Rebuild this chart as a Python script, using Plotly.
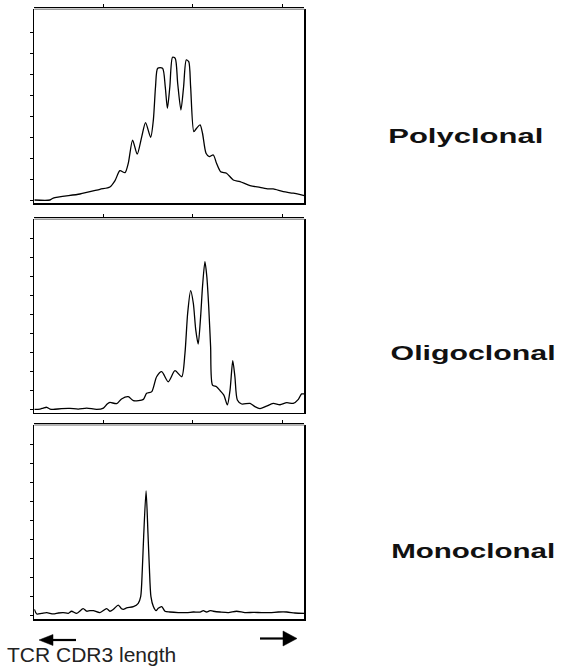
import plotly.graph_objects as go

# ---- data (relative fluorescence vs. CDR3 length position, 0-100 scale) ----
poly_x = [0.0, 5.8, 7.0, 16.9, 24.3, 28.0, 29.9, 31.7, 33.6, 34.8,
          36.4, 38.1, 39.8, 41.2, 43.1, 44.1, 44.9, 45.7, 47.5, 48.5,
          49.3, 50.2, 51.2, 52.2, 53.1, 54.3, 55.3, 56.3, 57.2, 57.9,
          59.1, 60.1, 61.4, 62.3, 63.6, 64.8, 66.3, 67.5, 69.0, 71.2,
          73.7, 76.2, 79.9, 83.6, 86.7, 88.5, 92.2, 95.9, 100]
poly_y = [1.7, 1.7, 2.7, 4.8, 7.2, 8.4, 11.7, 16.8, 15.8, 20.6,
          32.6, 25.3, 34.4, 41.6, 34.0, 43.0, 60.1, 69.6, 69.6, 60.1,
          49.0, 60.1, 75.3, 74.7, 61.9, 48.1, 60.1, 73.9, 73.0, 60.1,
          36.9, 38.7, 40.4, 36.1, 25.8, 24.1, 24.9, 20.6, 16.3, 15.5,
          12.0, 11.2, 9.1, 8.2, 7.4, 7.4, 6.0, 5.2, 4.0]

oligo_x = [0.0, 2.1, 3.3, 4.6, 5.8, 7.0, 10.1, 13.2, 16.3, 19.4,
           23.1, 25.6, 27.0, 28.0, 30.5, 32.3, 34.8, 36.7, 40.4, 41.6,
           43.5, 45.3, 47.2, 49.6, 52.1, 54.6, 55.8, 56.8, 57.9, 58.9,
           59.8, 60.7, 61.6, 62.3, 63.2, 63.9, 64.6, 65.3, 66.0, 67.5,
           68.8, 70.2, 71.5, 72.5, 73.5, 74.3, 75.2, 76.8, 79.9, 81.7,
           83.6, 86.0, 88.5, 91.0, 93.5, 95.9, 97.8, 99.0, 100]
oligo_y = [1.7, 1.9, 2.4, 2.8, 1.9, 1.7, 2.1, 2.2, 1.9, 2.4,
           1.7, 2.4, 4.5, 5.3, 4.7, 7.1, 8.3, 6.2, 6.9, 10.0,
           10.9, 18.6, 21.2, 16.0, 21.7, 18.6, 30.7, 51.4, 63.1, 56.6,
           42.8, 35.5, 49.7, 65.2, 78.1, 70.3, 54.8, 34.1, 14.3, 13.4,
           11.4, 9.1, 4.0, 11.7, 26.9, 18.6, 6.6, 4.5, 4.8, 3.1,
           2.1, 3.4, 4.8, 4.1, 5.2, 4.8, 6.9, 9.7, 9.7]

mono_x = [0.0, 0.9, 2.7, 4.6, 7.0, 8.9, 10.7, 12.6, 13.8, 15.7,
          18.1, 19.4, 20.6, 21.9, 24.3, 26.8, 28.0, 29.3, 31.1, 32.3,
          33.0, 34.2, 36.7, 38.5, 39.4, 40.0, 40.5, 41.4, 42.1, 42.6,
          43.2, 44.1, 45.1, 45.9, 47.2, 48.4, 50.2, 53.3, 56.4, 58.9,
          61.4, 62.6, 63.8, 65.1, 66.3, 68.8, 71.9, 74.9, 78.0, 81.1,
          84.2, 87.3, 90.4, 93.5, 96.5, 100]
mono_y = [5.0, 2.6, 2.9, 3.3, 2.6, 3.1, 3.3, 2.9, 4.0, 2.9,
          5.3, 4.0, 4.3, 4.3, 3.3, 5.3, 4.0, 5.0, 7.2, 5.3,
          5.0, 5.7, 6.4, 8.1, 11.5, 25.3, 42.4, 66.0, 44.2, 27.0,
          11.5, 6.4, 4.3, 5.5, 6.4, 4.0, 3.6, 3.3, 3.3, 3.6,
          3.6, 4.3, 3.6, 4.3, 4.0, 3.6, 3.3, 4.0, 3.3, 3.4,
          3.3, 3.3, 3.6, 3.6, 3.1, 2.9]

panel_labels = ["Polyclonal", "Oligoclonal", "Monoclonal"]
axis_title = "TCR CDR3 length"
top_ticks = [25.6, 58.5, 91.9]
left_ticks_1 = [1.5, 12.3, 23.1, 33.9, 44.7, 55.5, 66.3, 77.1, 87.9]
left_ticks_2 = [1.8, 11.6, 21.4, 31.2, 41.0, 50.8, 60.6, 70.4, 80.2, 90.0]

# ---- layout helpers (pixel -> paper) ----
W, H = 563, 667
def px(x):
    return x / W
def py(y):
    return 1 - y / H

X0, X1 = 34.3, 304.3
panels = [  # (top, bottom, extra tick line y) in pixels
    (9.3, 203.3, 6.5),
    (219.3, 412.7, 216.7),
    (425.0, 619.0, 422.7),
]
series = [(poly_x, poly_y, left_ticks_1),
          (oligo_x, oligo_y, left_ticks_2),
          (mono_x, mono_y, left_ticks_2)]
label_pos = [(465.8, 135.5), (472.5, 353.0), (472.7, 550.5)]

fig = go.Figure()
layout = dict(
    width=W, height=H,
    margin=dict(l=0, r=0, t=0, b=0),
    paper_bgcolor="white", plot_bgcolor="white",
    showlegend=False,
    font=dict(family="Liberation Sans, Arial, sans-serif", color="#111"),
)
shapes = []
annotations = []

for i, ((top, bot, extra), (xs, ys, lt)) in enumerate(zip(panels, series)):
    n = i + 1
    xa = "x" if n == 1 else f"x{n}"
    ya = "y" if n == 1 else f"y{n}"
    fig.add_trace(go.Scatter(
        x=xs, y=ys, mode="lines", xaxis=xa, yaxis=ya,
        line=dict(color="black", width=1.3, shape="spline", smoothing=0.7),
        hoverinfo="skip"))
    # extra top tick line axis
    m = n + 3
    fig.add_trace(go.Scatter(x=[], y=[], xaxis=f"x{m}", yaxis=ya))
    layout[f"xaxis{'' if n == 1 else n}"] = dict(
        domain=[px(X0), px(X1)], range=[0, 100], anchor=ya,
        showline=True, linecolor="black", linewidth=1.5,
        showgrid=False, zeroline=False, ticks="", showticklabels=False,
        fixedrange=True)
    layout[f"yaxis{'' if n == 1 else n}"] = dict(
        domain=[py(bot), py(top)], range=[0, 100], anchor=xa,
        showline=True, mirror=True, linecolor="black", linewidth=1.5,
        showgrid=False, zeroline=False,
        tickmode="array", tickvals=lt, ticks="outside", ticklen=3,
        tickwidth=1, tickcolor="black", showticklabels=False,
        fixedrange=True)
    layout[f"xaxis{m}"] = dict(
        domain=[px(X0), px(X1)], range=[0, 100], overlaying=xa,
        anchor="free", position=py(extra), side="top",
        showline=True, linecolor="black", linewidth=1.2,
        showgrid=False, zeroline=False,
        tickmode="array", tickvals=top_ticks, ticks="outside", ticklen=3,
        tickwidth=1, tickcolor="black", showticklabels=False,
        fixedrange=True)
    # grey top border of the frame
    shapes.append(dict(type="line", xref="paper", yref="paper",
                       x0=px(X0), x1=px(X1), y0=py(top), y1=py(top),
                       line=dict(color="#9a9a9a", width=1.5)))
    cx, cy = label_pos[i]
    annotations.append(dict(
        text=panel_labels[i], xref="paper", yref="paper",
        x=px(cx), y=py(cy), xanchor="center", yanchor="middle",
        showarrow=False,
        font=dict(family="Liberation Sans, Arial, sans-serif", size=19.5,
                  color="#111", weight="bold")))

# axis caption + arrows
annotations.append(dict(
    text=axis_title, xref="paper", yref="paper",
    x=px(5), y=py(654.5), xanchor="left", yanchor="middle", showarrow=False,
    font=dict(family="Liberation Sans, Arial, sans-serif", size=21,
              color="#222")))

def tri(tip_x, base_x, yc, half):
    return (f"M {px(tip_x)} {py(yc)} L {px(base_x)} {py(yc - half)} "
            f"L {px(base_x)} {py(yc + half)} Z")

shapes += [
    dict(type="line", xref="paper", yref="paper",
         x0=px(50), x1=px(76), y0=py(640), y1=py(640),
         line=dict(color="black", width=2.2)),
    dict(type="path", xref="paper", yref="paper", path=tri(39, 53, 640, 5.5),
         fillcolor="black", line=dict(color="black", width=0.5)),
    dict(type="line", xref="paper", yref="paper",
         x0=px(260), x1=px(285), y0=py(638.5), y1=py(638.5),
         line=dict(color="black", width=2.2)),
    dict(type="path", xref="paper", yref="paper", path=tri(297, 283, 638.5, 7.5),
         fillcolor="black", line=dict(color="black", width=0.5)),
]

layout["shapes"] = shapes
layout["annotations"] = annotations
fig.update_layout(**layout)

# page without default body margin; the labels in the original are
# horizontally stretched, mimic that with textLength
post = """
document.body.style.margin = '0';
document.body.style.overflow = 'hidden';
var gd = document.getElementById('{plot_id}');
var widths = {'Polyclonal': 155, 'Oligoclonal': 165, 'Monoclonal': 164};
gd.querySelectorAll('text.annotation-text').forEach(function(t) {
  var w = widths[t.textContent];
  if (w) { t.setAttribute('textLength', w); t.setAttribute('lengthAdjust', 'spacingAndGlyphs'); }
});
"""
fig.write_html("out.html", config={"displayModeBar": False, "staticPlot": True},
               post_script=post)
